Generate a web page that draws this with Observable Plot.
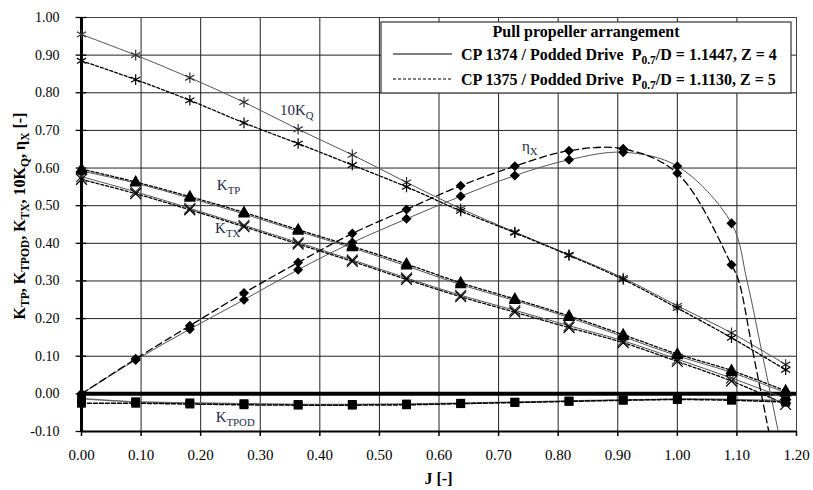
<!DOCTYPE html>
<html><head><meta charset="utf-8">
<script src="https://cdn.jsdelivr.net/npm/d3@7"></script>
<script src="https://cdn.jsdelivr.net/npm/@observablehq/plot@0.6"></script>
<style>
body{margin:0;background:#fff}
#chart{width:813px;height:490px}
svg text{white-space:pre}
</style>
</head><body><div id="chart"></div>
<script>
// Advance coefficient J at the measured points
const J = [0, 0.0909, 0.1818, 0.2727, 0.3636, 0.4545, 0.5455, 0.6364, 0.7273, 0.8182, 0.9091, 1.0, 1.0909, 1.1818];

// CP 1374 (solid) and CP 1375 (dashed)
const kq10_1374 = [0.955, 0.900, 0.840, 0.775, 0.703, 0.635, 0.562, 0.492, 0.430, 0.370, 0.308, 0.234, 0.162, 0.078];
const kq10_1375 = [0.885, 0.835, 0.780, 0.720, 0.665, 0.608, 0.550, 0.486, 0.428, 0.368, 0.304, 0.228, 0.149, 0.064];
const ktp_1374  = [0.592, 0.560, 0.520, 0.478, 0.432, 0.388, 0.340, 0.290, 0.248, 0.203, 0.152, 0.101, 0.057, 0.003];
const ktp_1375  = [0.597, 0.563, 0.524, 0.482, 0.436, 0.392, 0.345, 0.295, 0.252, 0.207, 0.157, 0.106, 0.062, 0.008];
const ktx_1374  = [0.577, 0.537, 0.493, 0.448, 0.402, 0.356, 0.308, 0.262, 0.222, 0.181, 0.141, 0.092, 0.042, -0.012];
const ktx_1375  = [0.570, 0.532, 0.489, 0.444, 0.398, 0.352, 0.304, 0.258, 0.217, 0.176, 0.136, 0.086, 0.034, -0.028];
const ktpod_1374 = [-0.012, -0.021, -0.024, -0.026, -0.028, -0.028, -0.027, -0.025, -0.022, -0.019, -0.016, -0.014, -0.015, -0.018];
const ktpod_1375 = [-0.025, -0.025, -0.027, -0.029, -0.030, -0.030, -0.029, -0.026, -0.023, -0.020, -0.017, -0.015, -0.017, -0.022];
// efficiency (markers up to J = 1.09)
const eta_1374 = [0, 0.090, 0.172, 0.250, 0.330, 0.402, 0.465, 0.525, 0.580, 0.622, 0.642, 0.605, 0.453];
const eta_1375 = [0, 0.093, 0.181, 0.268, 0.349, 0.426, 0.490, 0.553, 0.605, 0.646, 0.651, 0.586, 0.343];
// steep tail of the efficiency trend lines
const etaTailJ_1374 = [1.117, 1.142, 1.172];
const etaTail_1374  = [0.300, 0.110, -0.120];
const etaTailJ_1375 = [1.103, 1.127, 1.156];
const etaTail_1375  = [0.300, 0.110, -0.120];

const xTickLabels = ["0.00","0.10","0.20","0.30","0.40","0.50","0.60","0.70","0.80","0.90","1.00","1.10","1.20"];
const yTickLabels = ["-0.10","0.00","0.10","0.20","0.30","0.40","0.50","0.60","0.70","0.80","0.90","1.00"];
const xTicks = xTickLabels.map(Number);
const yTicks = yTickLabels.map(Number);

const rows = (js, vs) => vs.map((v, i) => ({J: js[i], v}));
const etaLine = (vals, tj, tv) => rows(J, vals).concat(rows(tj, tv));

const solid = {stroke: "#555", strokeWidth: 1};
const dashed = {stroke: "#000", strokeWidth: 1.3, strokeDasharray: "3,2"};
const lineOpts = (o) => ({x: "J", y: "v", curve: "catmull-rom", clip: true, ...o});
const diamond = {x: "J", y: "v", symbol: "square", rotate: 45, r: 4, fill: "#000"};
const FONT = "'Liberation Serif', 'Times New Roman', serif";

const chart = Plot.plot({
  width: 813, height: 490,
  marginLeft: 81, marginRight: 17, marginTop: 17, marginBottom: 59,
  x: {domain: [0, 1.2]},
  y: {domain: [-0.1, 1.0]},
  style: {fontFamily: FONT, fontSize: "14px", color: "#000", background: "#fff"},
  marks: [
    Plot.gridX(xTicks, {stroke: "#222", strokeOpacity: 1, strokeWidth: 1}),
    Plot.gridY(yTicks, {stroke: "#222", strokeOpacity: 1, strokeWidth: 1}),
    Plot.frame({stroke: "#444", strokeWidth: 1}),
    Plot.ruleY([0], {stroke: "#000", strokeWidth: 4}),
    Plot.ruleY([-0.1], {stroke: "#000", strokeWidth: 2}),
    Plot.ruleX([0], {stroke: "#000", strokeWidth: 3}),
    Plot.ruleY(yTicks, {x1: -0.009, x2: 0.009, stroke: "#000", strokeWidth: 1.3}),
    Plot.ruleX(xTicks, {y1: -0.1, y2: -0.113, stroke: "#000", strokeWidth: 1.5}),
    // lines
    Plot.line(rows(J, kq10_1374), lineOpts(solid)),
    Plot.line(rows(J, kq10_1375), lineOpts(dashed)),
    Plot.line(rows(J, ktp_1374), lineOpts(solid)),
    Plot.line(rows(J, ktp_1375), lineOpts(dashed)),
    Plot.line(rows(J, ktx_1374), lineOpts(solid)),
    Plot.line(rows(J, ktx_1375), lineOpts(dashed)),
    Plot.line(rows(J, ktpod_1374), lineOpts({stroke: "#666", strokeWidth: 1.5})),
    Plot.line(rows(J, ktpod_1375), lineOpts({stroke: "#000", strokeWidth: 1.5, strokeDasharray: "4,2"})),
    Plot.line(etaLine(eta_1374, etaTailJ_1374, etaTail_1374), lineOpts(solid)),
    Plot.line(etaLine(eta_1375, etaTailJ_1375, etaTail_1375), lineOpts({stroke: "#000", strokeWidth: 1.3, strokeDasharray: "7,4"})),
    // markers
    Plot.dot(rows(J, kq10_1374), {x: "J", y: "v", symbol: "asterisk", r: 5, stroke: "#333", strokeWidth: 1.2}),
    Plot.dot(rows(J, kq10_1375), {x: "J", y: "v", symbol: "asterisk", r: 5, stroke: "#000", strokeWidth: 1.2}),
    Plot.dot(rows(J, ktx_1374), {x: "J", y: "v", symbol: "times", r: 5, stroke: "#333", strokeWidth: 1.2}),
    Plot.dot(rows(J, ktx_1375), {x: "J", y: "v", symbol: "times", r: 5, stroke: "#000", strokeWidth: 1.2}),
    Plot.dot(rows(J, ktp_1374), {x: "J", y: "v", symbol: "triangle", r: 4.5, fill: "#000"}),
    Plot.dot(rows(J, ktp_1375), {x: "J", y: "v", symbol: "triangle", r: 4.5, fill: "#000"}),
    Plot.dot(rows(J, ktpod_1374), {x: "J", y: "v", symbol: "square", r: 5, fill: "#000"}),
    Plot.dot(rows(J, ktpod_1375), {x: "J", y: "v", symbol: "square", r: 5, fill: "#000"}),
    Plot.dot(rows(J, eta_1374), diamond),
    Plot.dot(rows(J, eta_1375), diamond),
    // axes
    Plot.axisX(xTicks, {tickSize: 0, tickPadding: 18, fontSize: 15, tickFormat: (d, i) => xTickLabels[i], label: null}),
    Plot.axisY(yTicks, {tickSize: 0, tickPadding: 22, fontSize: 14, tickFormat: (d, i) => yTickLabels[i], label: null})
  ]
});
document.getElementById("chart").appendChild(chart);

// Text with subscripts and the legend
const svg = d3.select(chart);
const sx = chart.scale("x"), sy = chart.scale("y");

function richText(g, x, y, parts, opts = {}) {
  const size = opts.size || 14;
  const t = g.append("text").attr("x", x).attr("y", y)
    .attr("font-family", FONT).attr("font-size", size)
    .attr("font-weight", opts.bold ? "bold" : "normal")
    .attr("fill", opts.fill || "#000")
    .attr("text-anchor", opts.anchor || "start");
  if (opts.transform) t.attr("transform", opts.transform);
  let sub = false;
  const sh = Math.round(size * 0.28);
  parts.forEach(([s, isSub]) => {
    const ts = t.append("tspan").text(s);
    if (isSub) {
      ts.attr("font-size", size * 0.72);
      if (!sub) { ts.attr("dy", sh); sub = true; }
    } else if (sub) { ts.attr("dy", -sh); sub = false; }
  });
  return t;
}

const ann = svg.append("g");
const labelColor = "#1f2a44";
const L = {fill: labelColor, size: 15};
richText(ann, sx.apply(0.334), sy.apply(0.74), [["10K"], ["Q", true]], L);
richText(ann, sx.apply(0.74), sy.apply(0.645), [["η"], ["X", true]], L);
richText(ann, sx.apply(0.228), sy.apply(0.54), [["K"], ["TP", true]], L);
richText(ann, sx.apply(0.225), sy.apply(0.425), [["K"], ["TX", true]], L);
richText(ann, sx.apply(0.226), sy.apply(-0.075), [["K"], ["TPOD", true]], L);

// axis titles
richText(ann, (sx.range[0] + sx.range[1]) / 2, 484, [["J [-]"]], {bold: true, anchor: "middle", size: 16});
richText(ann, 0, 0, [["K"], ["TP", true], [", K"], ["TPOD", true], [", K"], ["TX", true], [", 10K"], ["Q", true], [", η"], ["X", true], [" [-]"]],
  {bold: true, anchor: "middle", size: 16, transform: "translate(25,216) rotate(-90)"});

// legend
const lg = svg.append("g");
lg.append("rect").attr("x", 381).attr("y", 22).attr("width", 410).attr("height", 71)
  .attr("fill", "#fff").attr("stroke", "#333").attr("stroke-width", 1.2);
richText(lg, 586, 37, [["Pull propeller arrangement"]], {bold: true, anchor: "middle", size: 16});
lg.append("line").attr("x1", 393).attr("x2", 452).attr("y1", 54).attr("y2", 54).attr("stroke", "#000").attr("stroke-width", 1);
lg.append("line").attr("x1", 393).attr("x2", 452).attr("y1", 79).attr("y2", 79).attr("stroke", "#000").attr("stroke-width", 1).attr("stroke-dasharray", "3,2");
richText(lg, 461, 60, [["CP 1374 / Podded Drive  P"], ["0.7", true], ["/D = 1.1447, Z = 4"]], {bold: true, size: 16});
richText(lg, 461, 85, [["CP 1375 / Podded Drive  P"], ["0.7", true], ["/D = 1.1130, Z = 5"]], {bold: true, size: 16});
</script>
</body></html>
